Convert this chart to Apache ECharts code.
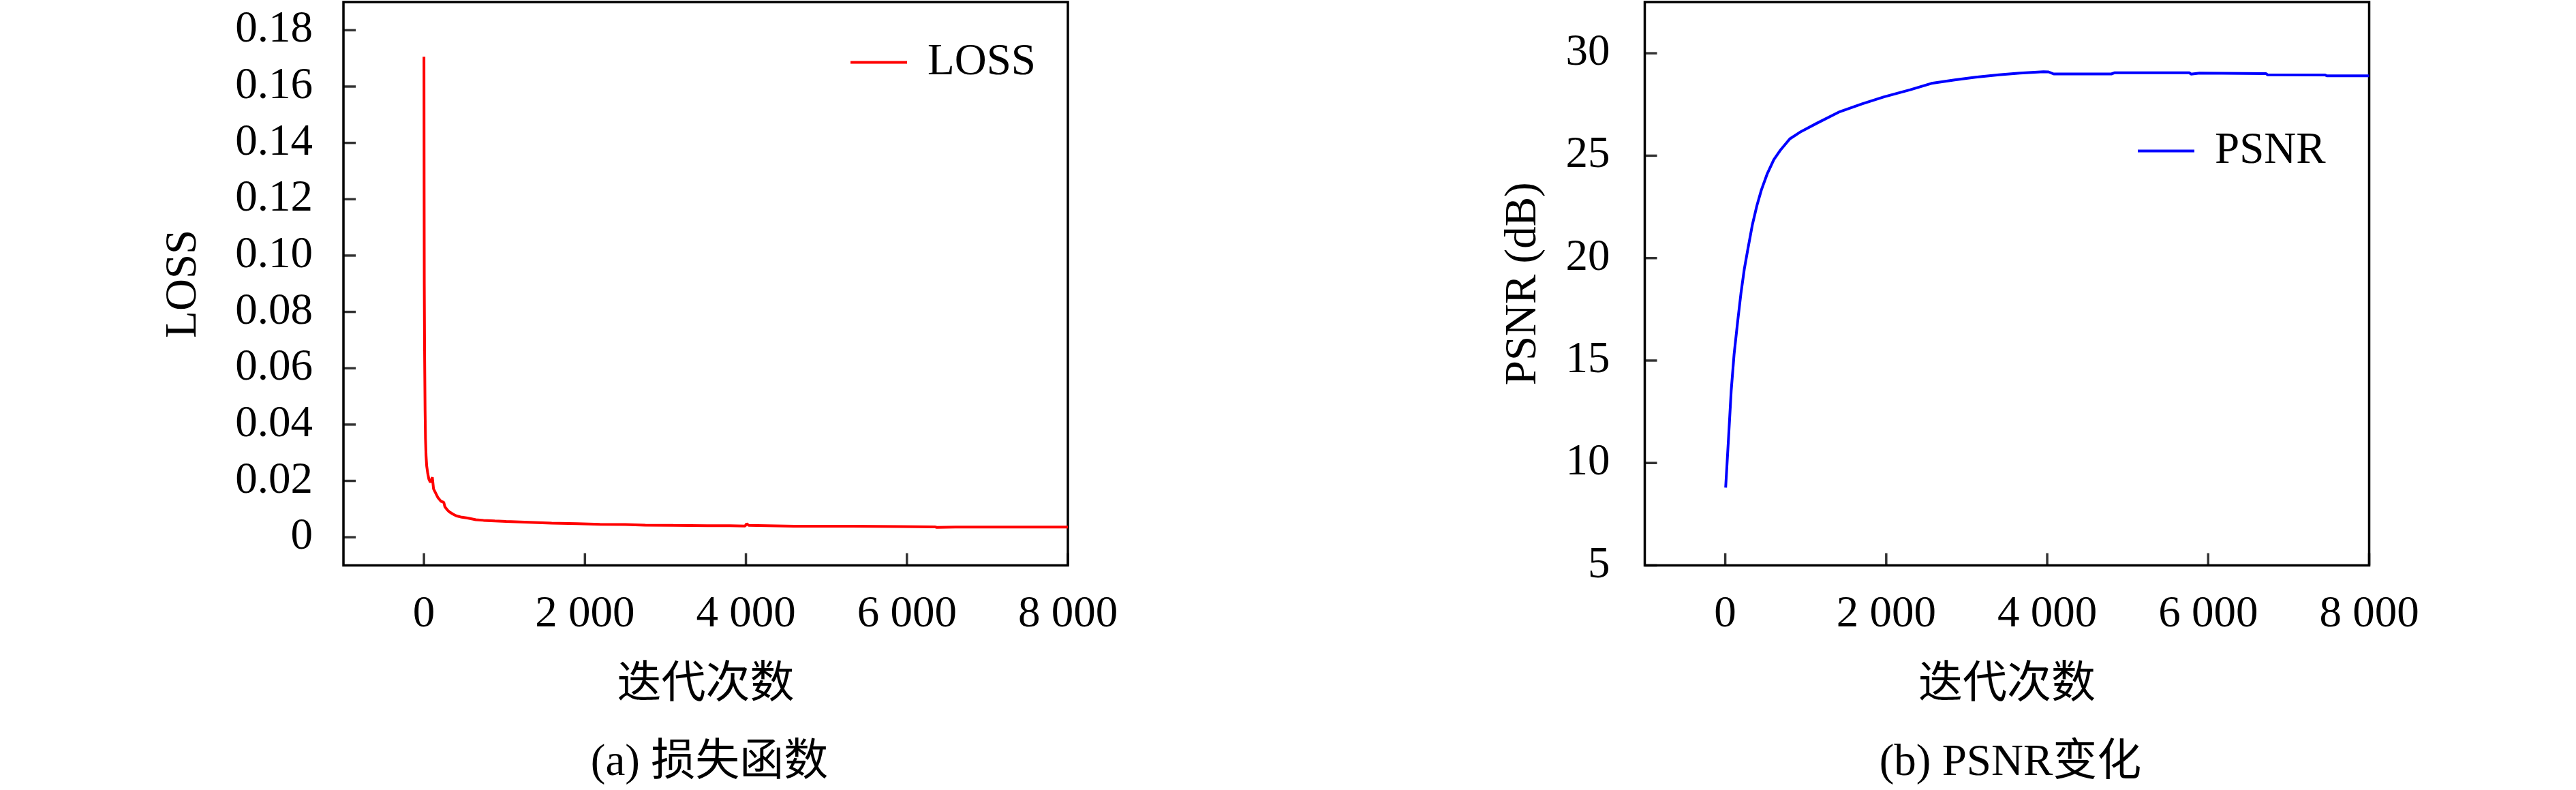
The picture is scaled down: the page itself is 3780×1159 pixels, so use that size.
<!DOCTYPE html>
<html lang="zh">
<head>
    <meta charset="utf-8">
    <script src="https://cdn.jsdelivr.net/npm/echarts@6/dist/echarts.min.js"></script>
    <style>
        html, body { margin: 0; padding: 0; background: #fff; }
        #main { width: 3780px; height: 1159px; }
    </style>
</head>
<body>
<div id="main"></div>

<script type="text/javascript">
    // tick values
    var iterTicks = [0, 2000, 4000, 6000, 8000];
    var lossTicks = [0, 0.02, 0.04, 0.06, 0.08, 0.10, 0.12, 0.14, 0.16, 0.18];
    var psnrTicks = [5, 10, 15, 20, 25, 30];

    // (a) loss curve
    var lossIter = [0, 2, 4, 8, 14, 19, 26, 34, 48, 62, 80, 104, 119, 140, 175, 210, 246, 260, 290, 316,
        360, 401, 470, 542, 645, 740, 880, 1022, 1305, 1587, 1900, 2186, 2500, 2751, 3100, 3521, 3800,
        3990, 4009, 4035, 4600, 5319, 5900, 6346, 6371, 6600, 7000, 7500, 8000];
    var lossVal = [0.1706, 0.1246, 0.0900, 0.0650, 0.0450, 0.0350, 0.0290, 0.0253, 0.0225, 0.0205,
        0.0195, 0.0213, 0.0172, 0.0160, 0.0140, 0.0128, 0.0124, 0.0108, 0.0097, 0.0090,
        0.0082, 0.0076, 0.0071, 0.0068, 0.0062, 0.0060, 0.0058, 0.0056, 0.0053, 0.0050,
        0.0048, 0.0046, 0.0045, 0.0043, 0.0042, 0.0041, 0.0041,
        0.0040, 0.0048, 0.0042, 0.0039, 0.0039, 0.0038, 0.0037, 0.0035, 0.0036, 0.0036, 0.0036, 0.0036];

    // (b) PSNR curve
    var psnrIter = [5, 11, 40, 74, 110, 153, 195, 237, 280, 336, 393, 449, 520, 604, 689, 802, 943,
        1141, 1424, 1700, 1972, 2300, 2562, 2850, 3110, 3400, 3659, 3954, 4017, 4080, 4797, 4840,
        5766, 5787, 5893, 6716, 6737, 7453, 7474, 8000];
    var psnrVal = [8.80, 8.84, 11.16, 13.53, 15.31, 16.86, 18.28, 19.47, 20.42, 21.61, 22.56, 23.33,
        24.10, 24.81, 25.29, 25.82, 26.18, 26.59, 27.15, 27.53, 27.87, 28.22, 28.53, 28.70, 28.83,
        28.95, 29.03, 29.10, 29.09, 28.99, 28.99, 29.05, 29.05, 28.98, 29.03, 29.01, 28.95,
        28.94, 28.90, 28.90];

    function pairs(xs, ys) {
        var out = [];
        for (var i = 0; i < xs.length; i++) {
            out.push([xs[i], ys[i]]);
        }
        return out;
    }

    var serif = '"Liberation Serif", "Noto Sans CJK SC", serif';
    var cjk = '"Noto Sans CJK SC", sans-serif';
    var fs = 65;

    function iterLabel(v) {
        if (v < 1000) return String(v);
        return Math.floor(v / 1000) + ' ' + ('00' + (v % 1000)).slice(-3);
    }

    // inner tick marks drawn as small rects on the axis edge
    function yTickMarks(idx, xEdge, values) {
        return {
            type: 'scatter', xAxisIndex: idx, yAxisIndex: idx, silent: true, clip: false,
            data: values.map(function (v) { return [xEdge, v]; }),
            symbol: 'rect', symbolSize: [18, 3.5], symbolOffset: [9, 0],
            itemStyle: { color: '#000' }, z: 5
        };
    }

    function xTickMarks(idx, yEdge, values) {
        return {
            type: 'scatter', xAxisIndex: idx, yAxisIndex: idx, silent: true, clip: false,
            data: values.map(function (v) { return [v, yEdge]; }),
            symbol: 'rect', symbolSize: [3.5, 18], symbolOffset: [0, -9],
            itemStyle: { color: '#000' }, z: 5
        };
    }

    function xAxis(idx) {
        return {
            type: 'value', gridIndex: idx, position: 'bottom', min: -1000, max: 8000,
            name: '迭代次数', nameLocation: 'middle', nameGap: 136,
            nameTextStyle: { fontFamily: cjk, fontSize: fs, color: '#000' },
            axisLine: { show: false, onZero: false },
            axisTick: { show: false },
            axisLabel: { customValues: iterTicks, formatter: iterLabel, margin: 40,
                fontFamily: serif, fontSize: fs, color: '#000' },
            splitLine: { show: false }
        };
    }

    function legendItem(name, left, top) {
        return {
            data: [name], left: left, top: top, icon: 'rect', itemWidth: 83, itemHeight: 4,
            textStyle: { fontFamily: serif, fontSize: fs, color: '#000', padding: [0, 0, 0, 25] }
        };
    }

    var chart = echarts.init(document.getElementById('main'));
    var option = {
        animation: false,
        backgroundColor: '#fff',
        title: [{
            text: '(a) 损失函数', left: 1036, top: 1082, textAlign: 'center',
            textStyle: { fontFamily: serif, fontSize: fs, fontWeight: 'normal', color: '#000' }
        }, {
            text: '(b) PSNR变化', left: 2945, top: 1082, textAlign: 'center',
            textStyle: { fontFamily: serif, fontSize: fs, fontWeight: 'normal', color: '#000' }
        }],
        legend: [legendItem('LOSS', 1243, 54), legendItem('PSNR', 3132, 184)],
        grid: [
            { left: 504, top: 3, width: 1063, height: 826.5, show: true,
                borderColor: '#000', borderWidth: 3.5 },
            { left: 2413.5, top: 3, width: 1063, height: 826.5, show: true,
                borderColor: '#000', borderWidth: 3.5 }
        ],
        xAxis: [xAxis(0), xAxis(1)],
        yAxis: [{
            type: 'value', gridIndex: 0, position: 'left', min: -0.01, max: 0.19,
            name: 'LOSS', nameLocation: 'middle', nameGap: 202,
            nameTextStyle: { fontFamily: serif, fontSize: fs, color: '#000' },
            axisLine: { show: false, onZero: false },
            axisTick: { show: false },
            axisLabel: { customValues: lossTicks, margin: 45,
                formatter: function (v) { return v === 0 ? '0' : v.toFixed(2); },
                fontFamily: serif, fontSize: fs, color: '#000' },
            splitLine: { show: false }
        }, {
            type: 'value', gridIndex: 1, position: 'left', min: 5, max: 32.5,
            name: 'PSNR (dB)', nameLocation: 'middle', nameGap: 145,
            nameTextStyle: { fontFamily: serif, fontSize: fs, color: '#000' },
            axisLine: { show: false, onZero: false },
            axisTick: { show: false },
            axisLabel: { customValues: psnrTicks, margin: 51,
                fontFamily: serif, fontSize: fs, color: '#000' },
            splitLine: { show: false }
        }],
        series: [{
            name: 'LOSS', type: 'line', xAxisIndex: 0, yAxisIndex: 0,
            data: pairs(lossIter, lossVal),
            symbol: 'none', showSymbol: false,
            color: '#ff0000', lineStyle: { color: '#ff0000', width: 4 }
        }, {
            name: 'PSNR', type: 'line', xAxisIndex: 1, yAxisIndex: 1,
            data: pairs(psnrIter, psnrVal),
            symbol: 'none', showSymbol: false,
            color: '#0000ff', lineStyle: { color: '#0000ff', width: 4 }
        },
            yTickMarks(0, -1000, lossTicks),
            xTickMarks(0, -0.01, iterTicks),
            yTickMarks(1, -1000, psnrTicks),
            xTickMarks(1, 5, iterTicks)
        ]
    };
    chart.setOption(option);
</script>
</body>
</html>
